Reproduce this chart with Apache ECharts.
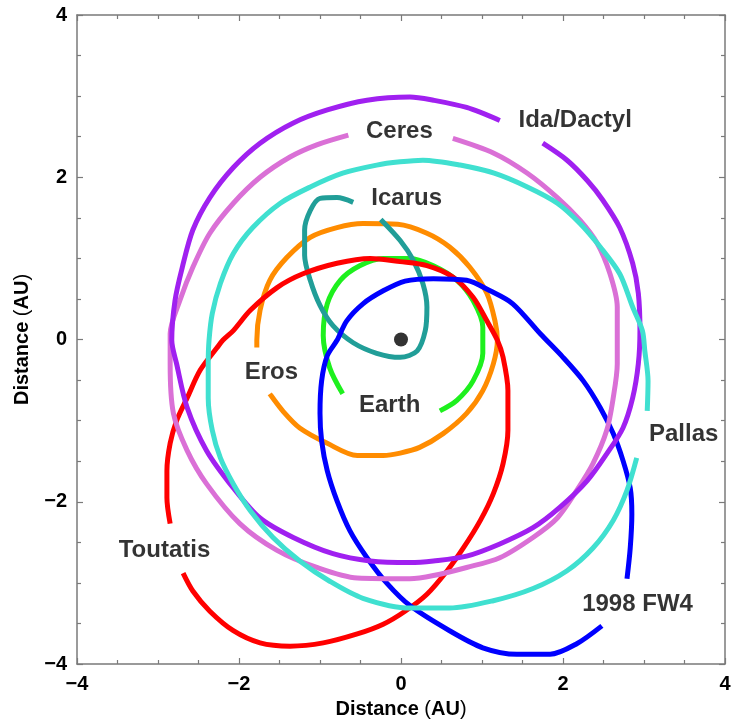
<!DOCTYPE html>
<html>
<head>
<meta charset="utf-8">
<script src="https://cdn.jsdelivr.net/npm/echarts@6/dist/echarts.min.js"></script>
<style>
  html, body { margin: 0; padding: 0; background: #fff; }
  #orbits { width: 733px; height: 721px; }
</style>
</head>
<body>
<div id="orbits"></div>
<script>
// 轨道数据 (AU)
const idaDactyl = [
  [1.22, 2.70], [0.81, 2.86], [0.40, 2.95], [0.11, 2.99], [-0.42, 2.95], [-0.91, 2.83],
  [-1.33, 2.67], [-1.74, 2.42], [-2.07, 2.12], [-2.36, 1.75], [-2.57, 1.35], [-2.70, 0.89],
  [-2.79, 0.48], [-2.83, -0.01], [-2.77, -0.30], [-2.64, -0.84], [-2.40, -1.37], [-2.07, -1.83],
  [-1.74, -2.20], [-1.33, -2.44], [-0.84, -2.64], [-0.38, -2.73], [0.11, -2.75], [0.40, -2.73],
  [0.81, -2.67], [1.22, -2.52], [1.63, -2.32], [1.96, -2.07], [2.30, -1.74], [2.54, -1.41],
  [2.74, -1.09], [2.86, -0.72], [2.93, -0.30], [2.95, 0.11], [2.93, 0.57], [2.86, 0.94],
  [2.70, 1.38], [2.49, 1.72], [2.30, 1.96], [2.05, 2.21], [1.75, 2.42]
]
const ceres = [
  [-0.65, 2.52], [-1.04, 2.40], [-1.37, 2.25], [-1.74, 2.00], [-2.07, 1.68], [-2.36, 1.31],
  [-2.57, 0.89], [-2.73, 0.48], [-2.85, 0.07], [-2.85, -0.30], [-2.81, -0.91], [-2.64, -1.37],
  [-2.40, -1.78], [-1.99, -2.27], [-1.53, -2.60], [-1.04, -2.81], [-0.54, -2.94], [0.11, -2.95],
  [0.40, -2.91], [0.81, -2.81], [1.22, -2.69], [1.63, -2.44], [1.93, -2.20], [2.17, -1.86],
  [2.37, -1.53], [2.54, -1.12], [2.62, -0.72], [2.67, -0.30], [2.67, 0.11], [2.67, 0.40],
  [2.58, 0.81], [2.42, 1.19], [2.21, 1.47], [1.93, 1.75], [1.56, 2.05], [1.14, 2.30], [0.64, 2.48]
]
const pallas = [
  [3.04, -0.88], [3.05, -0.51], [3.01, -0.14], [2.98, 0.11], [2.86, 0.40], [2.70, 0.81],
  [2.46, 1.14], [2.21, 1.43], [1.93, 1.68], [1.56, 1.88], [1.15, 2.05], [0.73, 2.15],
  [0.27, 2.21], [-0.01, 2.19], [-0.30, 2.15], [-0.72, 2.05], [-1.12, 1.88], [-1.49, 1.68],
  [-1.83, 1.38], [-2.07, 1.06], [-2.23, 0.69], [-2.33, 0.32], [-2.37, -0.01], [-2.38, -0.30],
  [-2.38, -0.72], [-2.33, -1.12], [-2.23, -1.46], [-2.07, -1.78], [-1.86, -2.11], [-1.58, -2.44],
  [-1.25, -2.73], [-0.88, -2.98], [-0.47, -3.19], [0.11, -3.31], [0.60, -3.31], [1.14, -3.22],
  [1.63, -3.07], [2.05, -2.85], [2.37, -2.57], [2.62, -2.23], [2.79, -1.86], [2.91, -1.46]
]
const toutatis = [
  [-2.85, -2.27], [-2.89, -1.95], [-2.89, -1.62], [-2.85, -1.28], [-2.77, -1.00], [-2.64, -0.72],
  [-2.48, -0.38], [-2.27, -0.10], [-2.20, -0.01], [-2.07, 0.11], [-1.86, 0.36], [-1.53, 0.64],
  [-1.21, 0.81], [-0.79, 0.94], [-0.38, 1.00], [-0.01, 0.96], [0.32, 0.91], [0.64, 0.77],
  [0.89, 0.52], [1.06, 0.23], [1.19, -0.01], [1.26, -0.22], [1.32, -0.63], [1.32, -1.12],
  [1.26, -1.53], [1.14, -1.90], [0.98, -2.23], [0.77, -2.57], [0.57, -2.85], [0.32, -3.14],
  [0.05, -3.35], [-0.22, -3.51], [-0.54, -3.63], [-0.96, -3.74], [-1.37, -3.78], [-1.74, -3.74],
  [-2.07, -3.59], [-2.36, -3.35], [-2.57, -3.10], [-2.69, -2.88]
]
const fw4 = [
  [2.79, -2.95], [2.83, -2.57], [2.85, -2.15], [2.83, -1.83], [2.74, -1.49], [2.62, -1.16],
  [2.46, -0.84], [2.25, -0.51], [2.00, -0.22], [1.72, 0.07], [1.38, 0.44], [1.10, 0.60],
  [0.81, 0.73], [0.40, 0.75], [0.05, 0.72], [-0.22, 0.60], [-0.47, 0.44], [-0.67, 0.23],
  [-0.79, -0.01], [-0.91, -0.20], [-0.98, -0.51], [-1.00, -0.91], [-0.98, -1.25], [-0.91, -1.62],
  [-0.79, -1.99], [-0.63, -2.36], [-0.42, -2.69], [-0.17, -3.01], [0.11, -3.28], [0.60, -3.59],
  [1.01, -3.80], [1.43, -3.88], [1.84, -3.88], [2.17, -3.75], [2.48, -3.53]
]
const eros = [
  [-1.78, -0.10], [-1.78, -0.01], [-1.74, 0.36], [-1.62, 0.73], [-1.41, 1.01], [-1.12, 1.26],
  [-0.79, 1.38], [-0.47, 1.43], [-0.04, 1.42], [0.32, 1.31], [0.60, 1.14], [0.85, 0.89],
  [1.06, 0.57], [1.16, 0.23], [1.19, -0.01], [1.14, -0.30], [1.01, -0.63], [0.81, -0.91],
  [0.52, -1.16], [0.23, -1.33], [-0.01, -1.40], [-0.22, -1.43], [-0.54, -1.43], [-0.91, -1.28],
  [-1.25, -1.09], [-1.46, -0.88], [-1.62, -0.67]
]
const earth = [
  [-0.72, -0.67], [-0.88, -0.35], [-0.96, 0.05], [-0.91, 0.44], [-0.75, 0.73], [-0.51, 0.91],
  [-0.22, 1.00], [0.11, 1.00], [0.40, 0.91], [0.69, 0.73], [0.89, 0.48], [1.01, 0.15],
  [1.01, -0.17], [0.89, -0.51], [0.69, -0.75], [0.48, -0.88]
]
const icarus = [
  [-0.59, 1.69], [-0.79, 1.75], [-1.00, 1.74], [-1.12, 1.59], [-1.19, 1.35], [-1.19, 1.04],
  [-1.12, 0.73], [-1.00, 0.42], [-0.84, 0.17], [-0.59, -0.04], [-0.30, -0.17], [-0.01, -0.22],
  [0.20, -0.14], [0.30, 0.11], [0.32, 0.40], [0.27, 0.69], [0.15, 0.98], [-0.01, 1.22], [-0.25, 1.48]
]
const sun = [[0, 0]]

// 标注
const labelNames = ['Ceres', 'Ida/Dactyl', 'Icarus', 'Eros', 'Earth', 'Pallas', 'Toutatis', '1998 FW4']
const labelX = [-0.02, 2.15, 0.07, -1.60, -0.14, 3.49, -2.92, 2.92]
const labelY = [2.56, 2.70, 1.74, -0.41, -0.81, -1.17, -2.60, -3.26]

const FONT = '"Liberation Sans", Arial, sans-serif'
const AXIS_COLOR = '#7a7a7a'

const fmtTick = (v) => (v < 0 ? '\u2212' + Math.abs(v) : String(v))

const orbit = (name, data, color) => ({
  name,
  type: 'line',
  data,
  showSymbol: false,
  symbol: 'none',
  smooth: 0.3,
  lineStyle: { color, width: 5 },
  z: 2
})

const baseAxis = (pos, showLabel, margin) => ({
  type: 'value',
  position: pos,
  min: -4,
  max: 4,
  interval: 2,
  axisLine: { show: true, onZero: false, lineStyle: { color: AXIS_COLOR, width: 1.5 } },
  axisTick: { show: true, inside: true, length: 6, lineStyle: { color: AXIS_COLOR, width: 1.2 } },
  minorTick: { show: true, splitNumber: 4, length: 4, lineStyle: { color: AXIS_COLOR, width: 1.2 } },
  splitLine: { show: false },
  axisLabel: {
    show: showLabel,
    margin: margin || 8,
    formatter: fmtTick,
    color: '#000',
    fontFamily: FONT,
    fontWeight: 'bold',
    fontSize: 20
  }
})

const nameStyle = {
  rich: {
    b: { fontFamily: FONT, fontWeight: 'bold', fontSize: 20, color: '#000' },
    n: { fontFamily: FONT, fontWeight: 'normal', fontSize: 20, color: '#000' }
  }
}
const AXIS_NAME = '{b|Distance }{n|(}{b|AU}{n|)}'

const chart = echarts.init(document.getElementById('orbits'))

chart.setOption({
  animation: false,
  grid: { left: 77, top: 15, width: 648, height: 649, outerBoundsMode: 'none', containLabel: false },
  xAxis: [
    {
      ...baseAxis('bottom', true, 10),
      name: AXIS_NAME,
      nameLocation: 'middle',
      nameGap: 35,
      nameTextStyle: nameStyle
    },
    baseAxis('top', false)
  ],
  yAxis: [
    {
      ...baseAxis('left', true, 10),
      name: AXIS_NAME,
      nameLocation: 'middle',
      nameGap: 45,
      nameTextStyle: nameStyle
    },
    baseAxis('right', false)
  ],
  series: [
    orbit('Earth', earth, '#1ef01e'),
    orbit('Eros', eros, '#ff8c00'),
    orbit('Icarus', icarus, '#219e98'),
    orbit('Toutatis', toutatis, '#ff0000'),
    orbit('1998 FW4', fw4, '#0000ff'),
    orbit('Ceres', ceres, '#da70d6'),
    orbit('Ida/Dactyl', idaDactyl, '#a020f0'),
    orbit('Pallas', pallas, '#40e0d0'),
    {
      name: 'Sun',
      type: 'scatter',
      data: sun,
      symbol: 'circle',
      symbolSize: 14,
      itemStyle: { color: '#000' },
      z: 5
    },
    {
      name: 'labels',
      type: 'scatter',
      data: labelNames.map((n, i) => ({ name: n, value: [labelX[i], labelY[i]] })),
      symbolSize: 0,
      silent: true,
      label: {
        show: true,
        position: 'inside',
        formatter: (p) => p.name,
        color: '#000',
        textBorderWidth: 0,
        textBorderColor: 'transparent',
        fontFamily: FONT,
        fontWeight: 'bold',
        fontSize: 24
      },
      z: 6
    }
  ]
})
</script>
</body>
</html>
